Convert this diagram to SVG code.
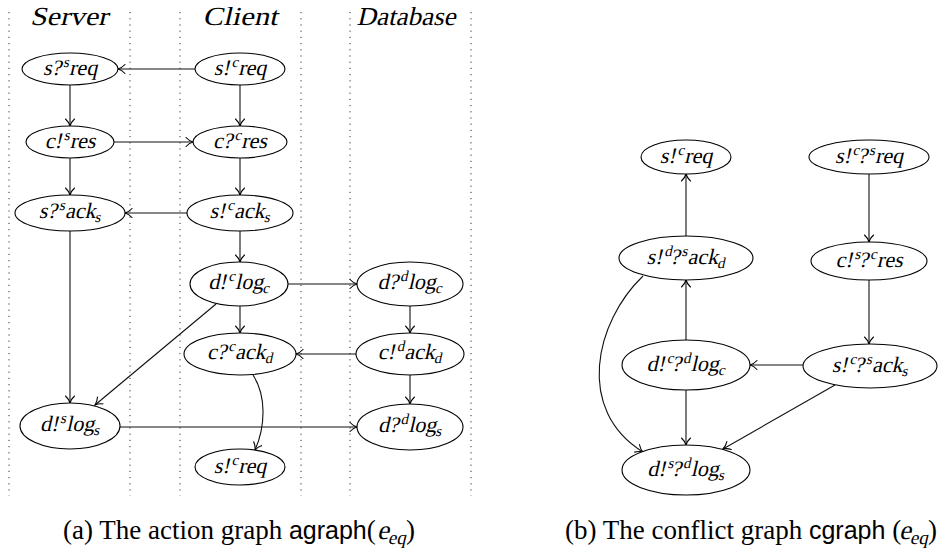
<svg xmlns="http://www.w3.org/2000/svg" width="943" height="550" viewBox="0 0 943 550">
  <style>
    .lane { stroke: #333; stroke-width: 1; stroke-dasharray: 1.2 5; fill: none; }
    .hd { font-family: "Liberation Serif", serif; font-size: 26px; text-anchor: middle; fill: #000; }
    .nd ellipse { fill: #fff; stroke: #000; stroke-width: 1.1; }
    .lb { font-family: "Liberation Serif", serif; font-size: 22px; text-anchor: middle; fill: #000; }
    .sp { font-size: 15px; }
    .edge { fill: none; stroke: #111; stroke-width: 1.1; marker-end: url(#arr); }
    .cap { font-family: "Liberation Serif", serif; font-size: 27px; fill: #000; }
    .sf { font-family: "Liberation Sans", sans-serif; font-size: 25px; }
    .sb { font-size: 19px; }
  </style>
  <defs>
    <marker id="arr" viewBox="-9 -5 10 10" refX="0" refY="0" markerWidth="10" markerHeight="10" markerUnits="userSpaceOnUse" orient="auto">
      <path d="M-7,-4.5 C-4.5,-1.8 -1.8,-0.5 0,0 C-1.8,0.5 -4.5,1.8 -7,4.5" fill="none" stroke="#000" stroke-width="1.1" stroke-linecap="round"/>
    </marker>
  </defs>

  <!-- swimlane separators -->
  <g id="lanes">
    <line class="lane" x1="9" y1="12" x2="9" y2="496"/>
    <line class="lane" x1="130" y1="12" x2="130" y2="496"/>
    <line class="lane" x1="180" y1="12" x2="180" y2="496"/>
    <line class="lane" x1="301" y1="12" x2="301" y2="496"/>
    <line class="lane" x1="350" y1="12" x2="350" y2="496"/>
    <line class="lane" x1="471" y1="12" x2="471" y2="496"/>
  </g>

  <!-- lane headers (slanted as math italic) -->
  <g id="headers">
    <text class="hd" transform="translate(69,25) skewX(-13)" textLength="78" lengthAdjust="spacingAndGlyphs">Server</text>
    <text class="hd" transform="translate(240,25) skewX(-13)" textLength="75" lengthAdjust="spacingAndGlyphs">Client</text>
    <text class="hd" transform="translate(406,25) skewX(-13)" textLength="99" lengthAdjust="spacingAndGlyphs">Database</text>
  </g>

  <!-- connectors -->
  <g id="connectors">
    <!-- action graph -->
    <path class="edge" d="M195,69 L118,69"/>
    <path class="edge" d="M70,85 L70,126"/>
    <path class="edge" d="M240,85 L240,126"/>
    <path class="edge" d="M114,142 L193,142"/>
    <path class="edge" d="M70,158 L70,195"/>
    <path class="edge" d="M240,158 L240,195"/>
    <path class="edge" d="M187,213 L125,213"/>
    <path class="edge" d="M240,231 L240,262"/>
    <path class="edge" d="M288,284 L357,284"/>
    <path class="edge" d="M240,306 L240,333"/>
    <path class="edge" d="M410,306 L410,333"/>
    <path class="edge" d="M356,354 L296,354"/>
    <path class="edge" d="M70,231 L70,403"/>
    <path class="edge" d="M216,304 L95,405"/>
    <path class="edge" d="M410,375 L410,404"/>
    <path class="edge" d="M120,427 L357,427"/>
    <path class="edge" d="M253,375 C266,395 266,425 255,450"/>
    <!-- conflict graph -->
    <path class="edge" d="M686,236 L686,174"/>
    <path class="edge" d="M686,340 L686,280"/>
    <path class="edge" d="M869,174 L869,242"/>
    <path class="edge" d="M869,280 L869,344"/>
    <path class="edge" d="M803,365 L750,365"/>
    <path class="edge" d="M686,390 L686,445"/>
    <path class="edge" d="M835,385 L723,449"/>
    <path class="edge" d="M643,276 C595,322 575,410 643,452"/>
  </g>

  <!-- action graph nodes -->
  <g id="a-s-recv-req" class="nd">
    <ellipse cx="70" cy="69" rx="48" ry="16"/>
    <text class="lb" transform="translate(70,75) skewX(-13)">s?<tspan class="sp" dy="-8">s</tspan><tspan dx="2" dy="8">req</tspan></text>
  </g>
  <g id="a-c-send-req" class="nd">
    <ellipse cx="240" cy="69" rx="45" ry="16"/>
    <text class="lb" transform="translate(240,75) skewX(-13)">s!<tspan class="sp" dy="-8">c</tspan><tspan dx="2" dy="8">req</tspan></text>
  </g>
  <g id="a-s-send-res" class="nd">
    <ellipse cx="70" cy="142" rx="44" ry="16"/>
    <text class="lb" transform="translate(70,148) skewX(-13)">c!<tspan class="sp" dy="-8">s</tspan><tspan dx="2" dy="8">res</tspan></text>
  </g>
  <g id="a-c-recv-res" class="nd">
    <ellipse cx="240" cy="142" rx="47" ry="16"/>
    <text class="lb" transform="translate(240,148) skewX(-13)">c?<tspan class="sp" dy="-8">c</tspan><tspan dx="2" dy="8">res</tspan></text>
  </g>
  <g id="a-s-recv-ack" class="nd">
    <ellipse cx="70" cy="213" rx="55" ry="18"/>
    <text class="lb" transform="translate(70,218) skewX(-13)">s?<tspan class="sp" dy="-8">s</tspan><tspan dx="2" dy="8">ack</tspan><tspan class="sp" dy="4">s</tspan></text>
  </g>
  <g id="a-c-send-ack" class="nd">
    <ellipse cx="240" cy="213" rx="53" ry="18"/>
    <text class="lb" transform="translate(240,218) skewX(-13)">s!<tspan class="sp" dy="-8">c</tspan><tspan dx="2" dy="8">ack</tspan><tspan class="sp" dy="4">s</tspan></text>
  </g>
  <g id="a-c-send-log" class="nd">
    <ellipse cx="239" cy="284" rx="49" ry="22"/>
    <text class="lb" transform="translate(239,289) skewX(-13)">d!<tspan class="sp" dy="-8">c</tspan><tspan dx="2" dy="8">log</tspan><tspan class="sp" dy="4">c</tspan></text>
  </g>
  <g id="a-d-recv-logc" class="nd">
    <ellipse cx="410" cy="284" rx="53" ry="22"/>
    <text class="lb" transform="translate(410,289) skewX(-13)">d?<tspan class="sp" dy="-8">d</tspan><tspan dx="2" dy="8">log</tspan><tspan class="sp" dy="4">c</tspan></text>
  </g>
  <g id="a-c-recv-ack" class="nd">
    <ellipse cx="240" cy="354" rx="56" ry="21"/>
    <text class="lb" transform="translate(240,359) skewX(-13)">c?<tspan class="sp" dy="-8">c</tspan><tspan dx="2" dy="8">ack</tspan><tspan class="sp" dy="4">d</tspan></text>
  </g>
  <g id="a-d-send-ack" class="nd">
    <ellipse cx="410" cy="354" rx="54" ry="21"/>
    <text class="lb" transform="translate(410,359) skewX(-13)">c!<tspan class="sp" dy="-8">d</tspan><tspan dx="2" dy="8">ack</tspan><tspan class="sp" dy="4">d</tspan></text>
  </g>
  <g id="a-s-send-log" class="nd">
    <ellipse cx="70" cy="426" rx="50" ry="23"/>
    <text class="lb" transform="translate(70,431) skewX(-13)">d!<tspan class="sp" dy="-8">s</tspan><tspan dx="2" dy="8">log</tspan><tspan class="sp" dy="4">s</tspan></text>
  </g>
  <g id="a-d-recv-logs" class="nd">
    <ellipse cx="410" cy="427" rx="53" ry="23"/>
    <text class="lb" transform="translate(410,432) skewX(-13)">d?<tspan class="sp" dy="-8">d</tspan><tspan dx="2" dy="8">log</tspan><tspan class="sp" dy="4">s</tspan></text>
  </g>
  <g id="a-c-send-req2" class="nd">
    <ellipse cx="240" cy="467" rx="45" ry="18"/>
    <text class="lb" transform="translate(240,473) skewX(-13)">s!<tspan class="sp" dy="-8">c</tspan><tspan dx="2" dy="8">req</tspan></text>
  </g>

  <!-- conflict graph nodes -->
  <g id="b-send-req" class="nd">
    <ellipse cx="686" cy="157" rx="45" ry="17"/>
    <text class="lb" transform="translate(686,163) skewX(-13)">s!<tspan class="sp" dy="-8">c</tspan><tspan dx="2" dy="8">req</tspan></text>
  </g>
  <g id="b-req" class="nd">
    <ellipse cx="869" cy="157" rx="60" ry="17"/>
    <text class="lb" transform="translate(869,163) skewX(-13)">s!<tspan class="sp" dy="-8">c</tspan><tspan dy="8">?</tspan><tspan class="sp" dy="-8">s</tspan><tspan dx="2" dy="8">req</tspan></text>
  </g>
  <g id="b-ackd" class="nd">
    <ellipse cx="686" cy="258" rx="67" ry="22"/>
    <text class="lb" transform="translate(686,264) skewX(-13)">s!<tspan class="sp" dy="-8">d</tspan><tspan dy="8">?</tspan><tspan class="sp" dy="-8">s</tspan><tspan dx="2" dy="8">ack</tspan><tspan class="sp" dy="4">d</tspan></text>
  </g>
  <g id="b-res" class="nd">
    <ellipse cx="869" cy="261" rx="58" ry="19"/>
    <text class="lb" transform="translate(869,267) skewX(-13)">c!<tspan class="sp" dy="-8">s</tspan><tspan dy="8">?</tspan><tspan class="sp" dy="-8">c</tspan><tspan dx="2" dy="8">res</tspan></text>
  </g>
  <g id="b-logc" class="nd">
    <ellipse cx="686" cy="365" rx="64" ry="25"/>
    <text class="lb" transform="translate(686,371) skewX(-13)">d!<tspan class="sp" dy="-8">c</tspan><tspan dy="8">?</tspan><tspan class="sp" dy="-8">d</tspan><tspan dx="2" dy="8">log</tspan><tspan class="sp" dy="4">c</tspan></text>
  </g>
  <g id="b-acks" class="nd">
    <ellipse cx="870" cy="366" rx="67" ry="22"/>
    <text class="lb" transform="translate(870,372) skewX(-13)">s!<tspan class="sp" dy="-8">c</tspan><tspan dy="8">?</tspan><tspan class="sp" dy="-8">s</tspan><tspan dx="2" dy="8">ack</tspan><tspan class="sp" dy="4">s</tspan></text>
  </g>
  <g id="b-logs" class="nd">
    <ellipse cx="686" cy="470" rx="64" ry="25"/>
    <text class="lb" transform="translate(686,476) skewX(-13)">d!<tspan class="sp" dy="-8">s</tspan><tspan dy="8">?</tspan><tspan class="sp" dy="-8">d</tspan><tspan dx="2" dy="8">log</tspan><tspan class="sp" dy="4">s</tspan></text>
  </g>

  <!-- captions -->
  <g id="captions">
    <text class="cap" x="63" y="539">(a) The action graph <tspan class="sf">agraph</tspan>(</text>
    <text class="cap" transform="translate(377,539) skewX(-13)">e<tspan class="sb" dy="5">eq</tspan></text>
    <text class="cap" x="406" y="539">)</text>
    <text class="cap" x="565" y="539">(b) The conflict graph <tspan class="sf">cgraph</tspan> (</text>
    <text class="cap" transform="translate(899,539) skewX(-13)">e<tspan class="sb" dy="5">eq</tspan></text>
    <text class="cap" x="928" y="539">)</text>
  </g>
</svg>
